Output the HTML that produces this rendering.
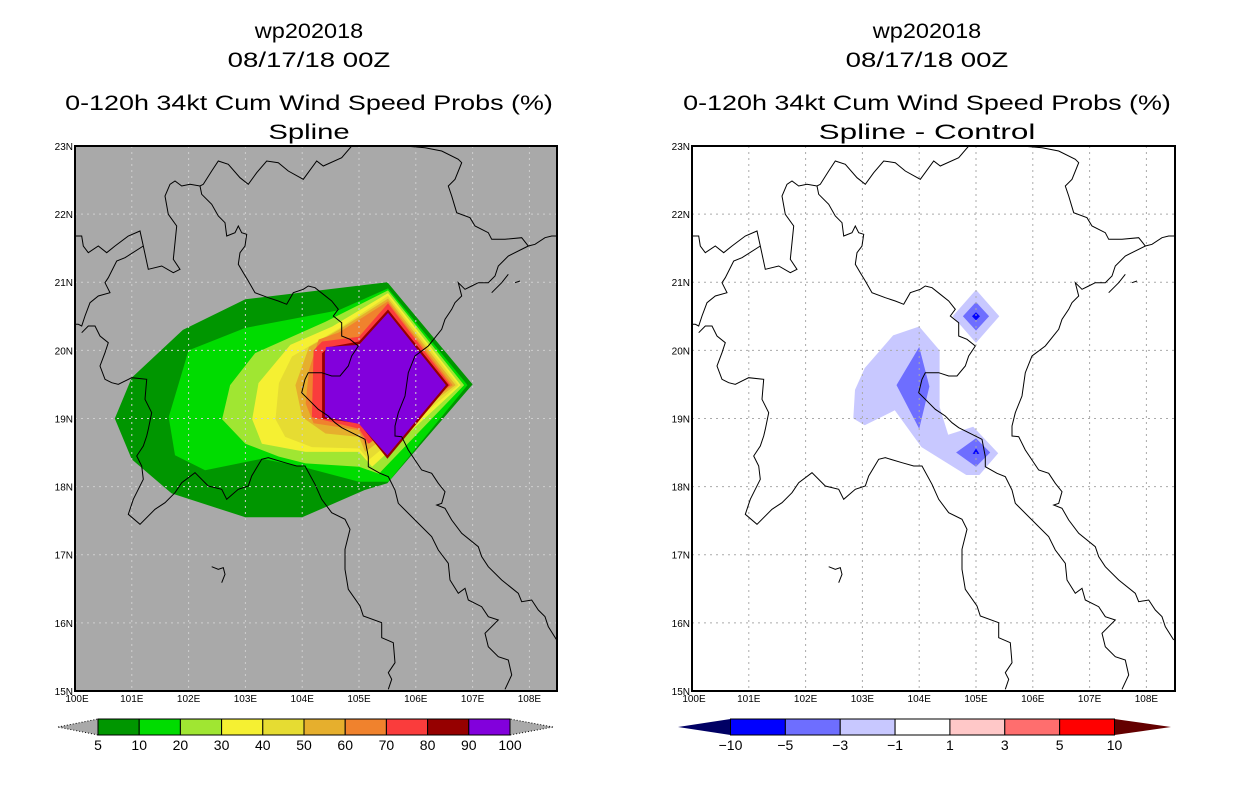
<!DOCTYPE html>
<html><head><meta charset="utf-8">
<style>
html,body{margin:0;padding:0;background:#fff;}
svg{display:block;}
text{font-family:"Liberation Sans",sans-serif;fill:#000;}
</style></head>
<body>
<svg id="root" width="1236" height="800" viewBox="0 0 1236 800"></svg>
<script>
// ---------- data ----------
const probLevels = [5,10,20,30,40,50,60,70,80,90,100];
const probColors = ["#009600","#00dc00","#a0e632","#f5f032","#e6dc32","#e6af2d","#f0822d","#fa3c3c","#960000","#8200dc"];
// contour polygons (lon,lat) for prob >= level
const probPoly5  = [[105.5,21],[103,20.75],[101.9,20.3],[101,19.6],[100.7,19],[101,18.4],[101.7,17.9],[103,17.55],[104,17.55],[105.1,17.95],[105.5,18.05],[107,19.5]];
const probPoly10 = [[105.51,20.91],[104.64,20.59],[103,20.33],[102,20],[101.65,19.02],[101.76,18.46],[102.29,18.24],[103.29,18.41],[104,18.29],[105,18.07],[105.52,18.07],[106.91,19.49]];
const probPoly20 = [[105.51,20.88],[104.41,20.42],[103.17,19.96],[102.73,19.49],[102.59,18.99],[103,18.63],[103.59,18.44],[104.06,18.34],[105,18.29],[105.35,18.19],[106.85,19.49]];
const probPoly30 = [[105.51,20.84],[104.53,20.35],[103.79,20.08],[103.23,19.52],[103.12,18.99],[103.29,18.63],[104.06,18.51],[105,18.51],[105.23,18.29],[106.79,19.49]];
const probPoly40 = [[105.51,20.8],[104.64,20.32],[103.82,19.91],[103.59,19.52],[103.53,18.99],[103.7,18.73],[104.17,18.58],[105,18.56],[105.17,18.39],[106.75,19.49]];
const probPoly50 = [[105.51,20.76],[104.64,20.3],[104.12,20.05],[103.88,19.49],[104,19.02],[104.41,18.78],[105,18.73],[105.11,18.51],[106.7,19.49]];
const probPoly60 = [[105.51,20.72],[104.64,20.26],[104.29,20.16],[104.12,19.71],[104.06,19.22],[104.2,18.93],[105,18.83],[105.11,18.61],[106.65,19.49]];
const probPoly70 = [[105.51,20.69],[105,20.2],[104.35,20.13],[104.2,20],[104.17,19.02],[105,18.85],[105.17,18.63],[106.61,19.49]];
const probPoly80 = [[105.51,20.6],[105,20.13],[104.47,20.05],[104.35,19.96],[104.35,19],[105,18.93],[105.5,18.41],[106.58,19.49]];
const probPoly90 = [[105.51,20.55],[105,20.08],[104.42,20.05],[104.4,19.96],[104.4,19.02],[105,18.92],[105.5,18.46],[106.53,19.49]];
const probPolys = [probPoly5,probPoly10,probPoly20,probPoly30,probPoly40,probPoly50,probPoly60,probPoly70,probPoly80,probPoly90];

const diffLevels = [-10,-5,-3,-1,1,3,5,10];
const diffColors = ["#000064","#0000ff","#6e6eff","#c8c8ff","#ffffff","#ffc8c8","#ff6e6e","#ff0000","#640000"];
const diffLight = [[104,20.35],[104.36,20],[104.36,19.17],[104.51,18.76],[104.95,18.88],[105.39,18.49],[105.06,18.17],[104.83,18.17],[104.04,18.58],[103.57,19.12],[103.04,18.9],[102.84,19],[102.87,19.42],[103.04,19.74],[103.54,20.22]];
const diffLightN = [[105,20.89],[105.41,20.5],[105,20.11],[104.59,20.5]];
const diffMid = [[104,20.05],[104.18,19.47],[104,18.85],[103.6,19.49]];
const diffMidN = [[105,20.71],[105.23,20.5],[105,20.29],[104.77,20.5]];
const diffMidS = [[105,18.71],[105.25,18.5],[105,18.29],[104.65,18.5]];
const diffDarkN = [[105,20.56],[105.07,20.5],[105,20.44],[104.93,20.5]];
const diffDarkS = [[105,18.56],[105.06,18.48],[104.94,18.48]];

const lonTicks = [100,101,102,103,104,105,106,107,108];
const latTicks = [15,16,17,18,19,20,21,22,23];

// ---------- borders (frame-relative px *3) ----------
const B = [
 [[830,0],[800,35],[745,60],[725,45],[685,100],[640,75],[610,50],[575,45],[545,80],[520,115],[495,95],[460,55],[430,45],[410,75],[385,115],[375,120],[345,115],[320,120],[300,105],[285,115],[270,150],[280,205],[305,240],[300,290],[295,340],[315,370],[295,380],[260,360],[220,370],[205,300],[195,255],[160,270],[120,300],[95,320],[70,300],[40,320],[25,300],[20,270],[0,270]],
 [[205,300],[150,335],[125,345],[100,395],[90,410],[105,440],[70,450],[45,470],[30,510],[20,540],[10,535],[0,535]],
 [[375,120],[380,145],[410,175],[430,210],[450,230],[455,270],[480,260],[490,240],[500,260],[515,265],[510,300],[495,320],[490,355],[505,380],[520,405],[540,440],[580,455],[610,465],[635,475],[655,440],[685,430],[700,420],[720,425],[745,445],[770,465],[790,490],[775,510],[800,530],[800,570],[825,580],[850,600],[830,630],[820,660],[795,690],[770,690],[740,680],[700,680],[690,700],[680,740],[700,760],[730,790],[760,810],[780,830],[800,845],[830,860],[870,880],[880,932],[880,962],[915,982],[940,992],[960,1032],[970,1072],[1020,1122],[1070,1172],[1090,1212],[1120,1252],[1125,1302],[1150,1342],[1170,1327],[1180,1362],[1220,1382],[1240,1412],[1270,1422],[1230,1462],[1240,1502],[1270,1532],[1300,1542],[1310,1587],[1290,1630]],
 [[20,560],[40,540],[60,540],[75,570],[100,590],[90,620],[75,660],[90,700],[110,710],[130,715],[170,695],[215,700],[210,760],[230,800],[220,850],[215,870],[205,900],[185,930],[200,960],[205,1000],[190,1030],[175,1060],[160,1105],[195,1135],[240,1090],[270,1070],[300,1040],[320,1010],[360,980],[400,1020],[440,1030],[455,1060],[490,1030],[520,1020],[530,990],[560,940],[580,935],[630,950],[665,960],[690,960],[720,1015],[740,1060],[770,1100],[810,1120],[825,1150],[810,1210],[810,1270],[820,1330],[855,1380],[865,1410],[920,1430],[920,1475],[955,1490],[960,1550],[940,1580],[950,1600],[940,1630]],
 [[990,0],[1050,5],[1100,15],[1150,40],[1160,50],[1140,100],[1120,120],[1130,150],[1145,200],[1185,215],[1200,240],[1240,260],[1250,280],[1290,280],[1340,275],[1360,300],[1380,295],[1410,275],[1430,270],[1450,270]],
 [[1360,300],[1300,330],[1270,360],[1260,390],[1240,410],[1210,410],[1190,420],[1170,430],[1150,410],[1160,450],[1140,470],[1130,490],[1110,520],[1100,550],[1060,600],[1020,630],[1000,680],[990,750],[970,800],[960,840],[960,870],[980,872],[1000,912],[1040,972],[1070,982],[1090,1012],[1110,1037],[1100,1072],[1085,1077],[1110,1087],[1130,1122],[1160,1162],[1210,1202],[1220,1232],[1240,1262],[1280,1302],[1330,1342],[1340,1367],[1370,1362],[1390,1392],[1410,1412],[1420,1442],[1445,1482]],
 [[410,1262],[430,1270],[445,1265],[450,1285],[440,1310]],
 [[1250,440],[1280,410],[1300,385]],[[1320,410],[1335,405]]
];

const NS="http://www.w3.org/2000/svg";
const root=document.getElementById('root');
function el(tag,attrs,parent){const e=document.createElementNS(NS,tag);for(const k in attrs)e.setAttribute(k,attrs[k]);(parent||root).appendChild(e);return e;}

function makePanel(px,py,pw,ph,bg,name){
  const g=el('g',{});
  
  
  const xS=lon=>px+(lon-100)*56.8;
  const yS=lat=>py+(23-lat)*68.12;
  const clipId=name+'-clip';
  const cp=el('clipPath',{id:clipId},g);el('rect',{x:px,y:py,width:pw,height:ph},cp);
  const bgr=el('rect',{x:px,y:py,width:pw,height:ph,fill:bg},g);
  
  
  const inner=el('g',{'clip-path':'url(#'+clipId+')'},g);
  return {g,inner,xS,yS,px,py,pw,ph};
}
function poly(P,pts,fill,name){
  const d=pts.map(p=>P.xS(p[0]).toFixed(1)+','+P.yS(p[1]).toFixed(1)).join(' ');
  const e=el('polygon',{points:d,fill:fill},P.inner);
  
  
}
function finishPanel(P,gridColor){
  // grid
  lonTicks.forEach(l=>{if(l>100){const x=P.xS(l);el('line',{x1:x,y1:P.py,x2:x,y2:P.py+P.ph,stroke:gridColor,'stroke-width':1,'stroke-dasharray':'2,4'},P.inner);}});
  latTicks.forEach(l=>{if(l>15&&l<23){const y=P.yS(l);el('line',{x1:P.px,y1:y,x2:P.px+P.pw,y2:y,stroke:gridColor,'stroke-width':1,'stroke-dasharray':'2,4'},P.inner);}});
  // borders
  B.forEach(line=>{
    const d=line.map(p=>(P.px+p[0]/3).toFixed(1)+','+(P.py+p[1]/3).toFixed(1)).join(' ');
    const e=el('polyline',{points:d,fill:'none',stroke:'#000','stroke-width':1},P.inner);
    
    
  });
  const fr=el('rect',{x:P.px,y:P.py,width:P.pw,height:P.ph,fill:'none',stroke:'#000','stroke-width':2},P.g);
  
  
  lonTicks.forEach(l=>{
    const t=el('text',{x:P.xS(l)+(l==100?2:0),y:P.py+P.ph+11,'font-size':10,'text-anchor':'middle'},P.g);t.textContent=l+'E';
    
    
  });
  latTicks.forEach(l=>{
    const t=el('text',{x:P.px-2,y:P.yS(l)+4,'font-size':10,'text-anchor':'end'},P.g);t.textContent=l+'N';
    
    
  });
}
function titles(cx,lines){
  const ys=[38,67,110,139];
  lines.forEach((s,i)=>{
    const t=el('text',{x:cx,y:ys[i],'font-size':21,'text-anchor':'middle',textLength:s.length*13.55,lengthAdjust:'spacingAndGlyphs'});
    t.textContent=s;
    
    
  });
}

// Left panel
const L=makePanel(75,146,482,545,'#a9a9a9','left-map-panel');
probPolys.forEach((p,i)=>poly(L,p,probColors[i],'prob-contour-'+probLevels[i]));
finishPanel(L,'#cfcfcf');
titles(309,['wp202018','08/17/18 00Z','0-120h 34kt Cum Wind Speed Probs (%)','Spline']);

// Right panel
const R=makePanel(692,146,483,545,'#ffffff','right-map-panel');
poly(R,diffLight,diffColors[3],'diff-contour-light');
poly(R,diffLightN,diffColors[3],'diff-contour-light-north');
poly(R,diffMid,diffColors[2],'diff-contour-mid');
poly(R,diffMidN,diffColors[2],'diff-contour-mid-north');
poly(R,diffMidS,diffColors[2],'diff-contour-mid-south');
poly(R,diffDarkN,diffColors[1],'diff-contour-dark-north');
poly(R,diffDarkS,diffColors[1],'diff-contour-dark-south');
finishPanel(R,'#aaaaaa');
titles(927,['wp202018','08/17/18 00Z','0-120h 34kt Cum Wind Speed Probs (%)','Spline - Control']);

// Colorbars
function colorbar(x0,x1,triL,triR,colors,labels,leftTri,rightTri,triStroke,name){
  const g=el('g',{});
  
  
  const y0=719,y1=735,ym=727;
  const n=colors.length;const w=(x1-x0)/n;
  el('polygon',{points:`${triL},${ym} ${x0},${y0} ${x0},${y1}`,fill:leftTri,stroke:triStroke,'stroke-width':1,'stroke-dasharray':triStroke=='none'?'':'1,2'},g);
  el('polygon',{points:`${triR},${ym} ${x1},${y0} ${x1},${y1}`,fill:rightTri,stroke:triStroke,'stroke-width':1,'stroke-dasharray':triStroke=='none'?'':'1,2'},g);
  colors.forEach((c,i)=>{
    const r=el('rect',{x:x0+i*w,y:y0,width:w,height:y1-y0,fill:c,stroke:'#000','stroke-width':1},g);
    
    
  });
  labels.forEach((s,i)=>{
    const t=el('text',{x:x0+i*w,y:750,'font-size':14,'text-anchor':'middle'},g);
    t.textContent=String(s).replace('-','\u2212');
    
    
  });
}
colorbar(98,510,58,553,probColors,probLevels,'#a9a9a9','#a9a9a9','#000','prob-colorbar');
colorbar(730.5,1114.5,678,1171,diffColors.slice(1,8),diffLevels,diffColors[0],diffColors[8],'none','diff-colorbar');
</script>
</body></html>
